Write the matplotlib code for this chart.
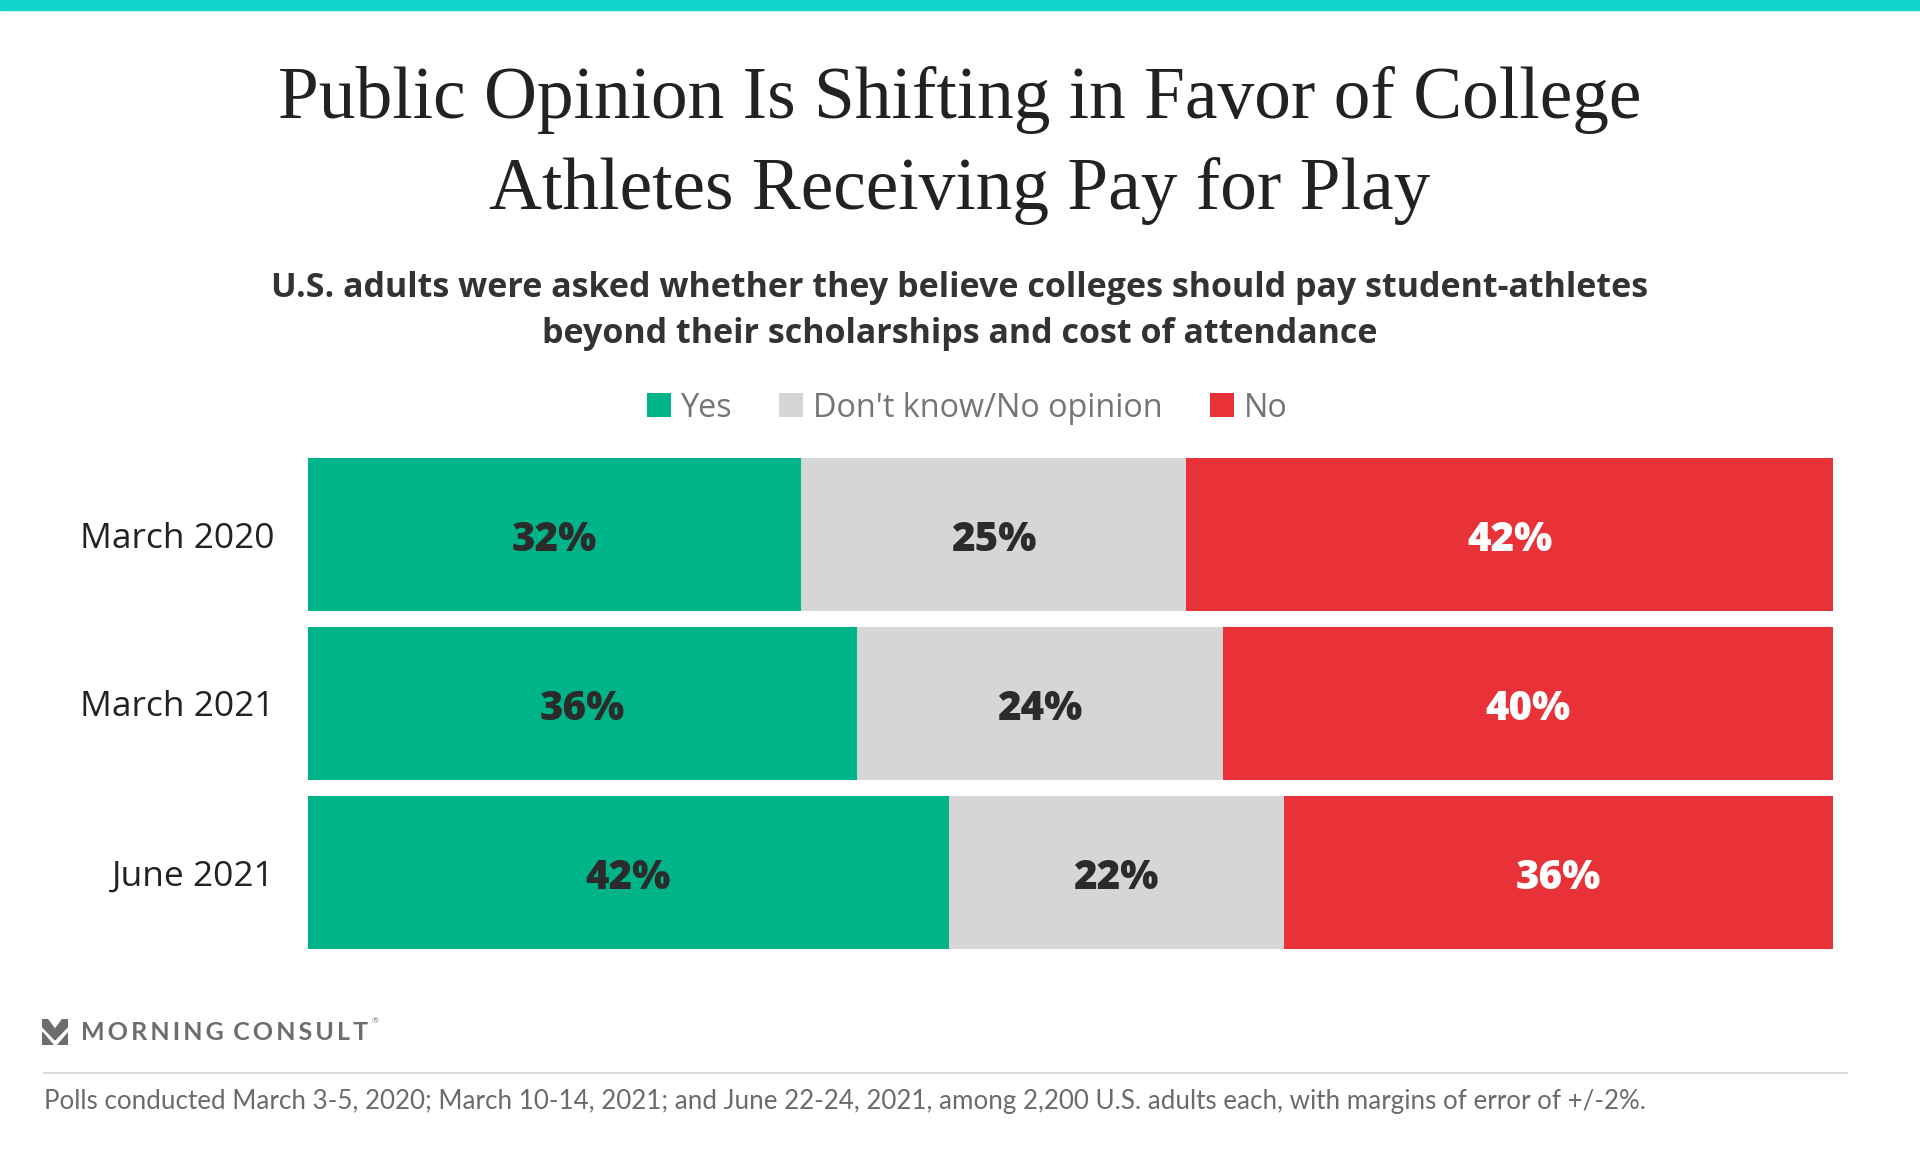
import matplotlib
matplotlib.use("Agg")
import matplotlib.pyplot as plt
from matplotlib.patches import Patch, Polygon
import matplotlib.transforms as mtransforms
import numpy as np

# ---- data ----
periods = ["March 2020", "March 2021", "June 2021"]
series_names = ["Yes", "Don't know/No opinion", "No"]
yes_vals = [32, 36, 42]
dk_vals = [25, 24, 22]
no_vals = [42, 40, 36]

colors = ["#00B48A", "#D6D6D6", "#E83238"]
label_colors = ["#2b2b2b", "#2b2b2b", "#ffffff"]

SANS = ["Open Sans", "DejaVu Sans"]
LATO = ["Lato", "DejaVu Sans"]
SERIF = ["Liberation Serif", "DejaVu Serif"]
plt.rcParams['font.family'] = SANS

W, H = 1920, 1152
fig = plt.figure(figsize=(W / 100, H / 100), dpi=100)
fig.patch.set_facecolor("white")

def fx(px):
    return px / W

def fy(py):
    return 1 - py / H

# top teal band
fig.patches.append(plt.Rectangle((0, fy(10)), 1, 10 / H, transform=fig.transFigure,
                                 color="#10D6CB", zorder=5))

# title
fig.text(0.5, fy(100), "Public Opinion Is Shifting in Favor of College",
         ha="center", va="center", fontsize=52.8, family=SERIF, color="#222222")
fig.text(0.5, fy(191), "Athletes Receiving Pay for Play",
         ha="center", va="center", fontsize=52.8, family=SERIF, color="#222222")

# subtitle
fig.text(0.5, fy(288), "U.S. adults were asked whether they believe colleges should pay student-athletes",
         ha="center", va="center", fontsize=24.5, fontweight="bold", color="#333333")
fig.text(0.5, fy(334), "beyond their scholarships and cost of attendance",
         ha="center", va="center", fontsize=24.5, fontweight="bold", color="#333333")

# legend
handles = [Patch(facecolor=c, edgecolor="none") for c in colors]
leg = fig.legend(handles, series_names, loc="center", bbox_to_anchor=(fx(967), fy(408)),
                 ncol=3, frameon=False, fontsize=23.3, labelcolor="#757575",
                 handlelength=0.75, handleheight=0.75, handletextpad=0.3,
                 columnspacing=1.45, borderaxespad=0)

# bars
ax = fig.add_axes([fx(308), fy(949), fx(1833) - fx(308), (949 - 458) / H])
vals = np.array([yes_vals, dk_vals, no_vals], dtype=float)  # series x periods
totals = vals.sum(axis=0)
shares = vals / totals
y = np.arange(len(periods))
left = np.zeros(len(periods))
bar_h = 153 / 169
lab_offset = mtransforms.offset_copy(ax.transData, fig=fig, x=0, y=-6, units="dots")
for i, name in enumerate(series_names):
    bars = ax.barh(y, shares[i], left=left, height=bar_h, color=colors[i], edgecolor="none")
    for j, b in enumerate(bars):
        ax.text(left[j] + shares[i][j] / 2, y[j], f"{int(vals[i][j])}%",
                ha="center", va="center", fontsize=29, fontweight=800,
                color=label_colors[i], transform=lab_offset)
    left = left + shares[i]

ax.set_xlim(0, 1)
ax.set_ylim(len(periods) - 1 + bar_h / 2, -bar_h / 2)
ax.set_yticks(y)
ax.set_yticklabels(periods, fontsize=25.5, color="#222222")
ax.tick_params(axis="y", length=0, pad=24)
ax.set_xticks([])
for s in ax.spines.values():
    s.set_visible(False)

# logo icon
iax = fig.add_axes([fx(42), fy(1045), fx(26), 26 / H])
iax.set_xlim(0, 1)
iax.set_ylim(0, 1)
iax.axis("off")
logo_col = "#6d6d6d"
iax.add_patch(Polygon([(0, 1), (0.2, 1), (0.5, 0.6), (0.8, 1), (1, 1), (1, 0.72),
                       (0.5, 0.2), (0, 0.72)], closed=True, color=logo_col))
iax.add_patch(Polygon([(0, 0.5), (0, 0), (0.42, 0)], closed=True, color=logo_col))
iax.add_patch(Polygon([(1, 0.5), (1, 0), (0.58, 0)], closed=True, color=logo_col))

logo_txt = fig.text(fx(81), fy(1032), "\u2009".join("MORNING") + "\u2009\u2009\u2009" + "\u2009".join("CONSULT"),
                    ha="left", va="center", fontsize=18, fontweight="bold",
                    color=logo_col, family=LATO)
fig.canvas.draw()
bb = logo_txt.get_window_extent(fig.canvas.get_renderer())
fig.text(bb.x1 / W + fx(3), fy(1021), "®", ha="left", va="center", fontsize=6,
         color=logo_col, family=LATO)

# separator
fig.add_artist(plt.Line2D([fx(44), fx(1847)], [fy(1073), fy(1073)],
                          transform=fig.transFigure, color="#dcdcdc", lw=1.5))

# footnote
fig.text(fx(44), fy(1102),
         "Polls conducted March 3-5, 2020; March 10-14, 2021; and June 22-24, 2021, among 2,200 U.S. adults each, with margins of error of +/-2%.",
         ha="left", va="center", fontsize=18.7, color="#6b6b6b", family=LATO)

fig.savefig("out.png", dpi=100, facecolor="white")
